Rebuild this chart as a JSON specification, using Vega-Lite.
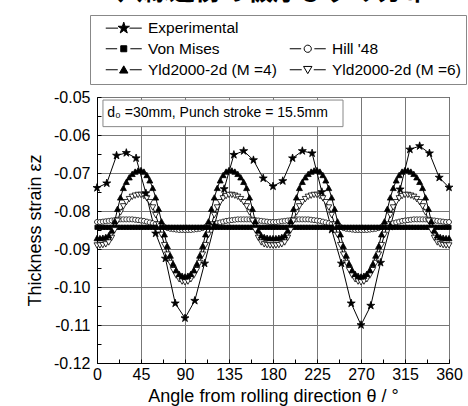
{
  "$schema": "https://vega.github.io/schema/vega-lite/v6.json",
  "width": 352,
  "height": 266,
  "autosize": {"type": "none"},
  "padding": {"left": 97, "top": 97, "right": 19, "bottom": 43},
  "background": "white",
  "config": {
    "font": "Liberation Sans",
    "view": {"stroke": "black", "strokeWidth": 1}
  },
  "title": {
    "text": "穴縁近傍の板厚ひずみ分布",
    "font": "Noto Sans CJK JP",
    "fontSize": 26,
    "fontWeight": "bold",
    "color": "black",
    "anchor": "middle",
    "frame": "group",
    "baseline": "bottom",
    "offset": 0,
    "dy": 16
  },
  "data": {
    "values": [
      {"model":"Hill","theta":0,"ez":-0.0829},{"model":"Hill","theta":3,"ez":-0.0829},{"model":"Hill","theta":6,"ez":-0.0828},{"model":"Hill","theta":9,"ez":-0.0827},{"model":"Hill","theta":12,"ez":-0.0826},{"model":"Hill","theta":15,"ez":-0.0825},{"model":"Hill","theta":18,"ez":-0.0824},{"model":"Hill","theta":21,"ez":-0.0823},{"model":"Hill","theta":24,"ez":-0.0822},{"model":"Hill","theta":27,"ez":-0.0822},{"model":"Hill","theta":30,"ez":-0.0822},{"model":"Hill","theta":33,"ez":-0.0822},{"model":"Hill","theta":36,"ez":-0.0822},{"model":"Hill","theta":39,"ez":-0.0823},{"model":"Hill","theta":42,"ez":-0.0824},{"model":"Hill","theta":45,"ez":-0.0825},{"model":"Hill","theta":48,"ez":-0.0826},{"model":"Hill","theta":51,"ez":-0.0828},{"model":"Hill","theta":54,"ez":-0.083},{"model":"Hill","theta":57,"ez":-0.0832},{"model":"Hill","theta":60,"ez":-0.0834},{"model":"Hill","theta":63,"ez":-0.0837},{"model":"Hill","theta":66,"ez":-0.084},{"model":"Hill","theta":69,"ez":-0.0842},{"model":"Hill","theta":72,"ez":-0.0845},{"model":"Hill","theta":75,"ez":-0.0847},{"model":"Hill","theta":78,"ez":-0.0848},{"model":"Hill","theta":81,"ez":-0.0849},{"model":"Hill","theta":84,"ez":-0.085},{"model":"Hill","theta":87,"ez":-0.085},{"model":"Hill","theta":90,"ez":-0.085},
      {"model":"Hill","theta":93,"ez":-0.085},{"model":"Hill","theta":96,"ez":-0.085},{"model":"Hill","theta":99,"ez":-0.0849},{"model":"Hill","theta":102,"ez":-0.0848},{"model":"Hill","theta":105,"ez":-0.0847},{"model":"Hill","theta":108,"ez":-0.0845},{"model":"Hill","theta":111,"ez":-0.0842},{"model":"Hill","theta":114,"ez":-0.084},{"model":"Hill","theta":117,"ez":-0.0837},{"model":"Hill","theta":120,"ez":-0.0834},{"model":"Hill","theta":123,"ez":-0.0832},{"model":"Hill","theta":126,"ez":-0.083},{"model":"Hill","theta":129,"ez":-0.0828},{"model":"Hill","theta":132,"ez":-0.0826},{"model":"Hill","theta":135,"ez":-0.0825},{"model":"Hill","theta":138,"ez":-0.0824},{"model":"Hill","theta":141,"ez":-0.0823},{"model":"Hill","theta":144,"ez":-0.0822},{"model":"Hill","theta":147,"ez":-0.0822},{"model":"Hill","theta":150,"ez":-0.0822},{"model":"Hill","theta":153,"ez":-0.0822},{"model":"Hill","theta":156,"ez":-0.0822},{"model":"Hill","theta":159,"ez":-0.0823},{"model":"Hill","theta":162,"ez":-0.0824},{"model":"Hill","theta":165,"ez":-0.0825},{"model":"Hill","theta":168,"ez":-0.0826},{"model":"Hill","theta":171,"ez":-0.0827},{"model":"Hill","theta":174,"ez":-0.0828},{"model":"Hill","theta":177,"ez":-0.0829},{"model":"Hill","theta":180,"ez":-0.0829},
      {"model":"Hill","theta":183,"ez":-0.0829},{"model":"Hill","theta":186,"ez":-0.0828},{"model":"Hill","theta":189,"ez":-0.0827},{"model":"Hill","theta":192,"ez":-0.0826},{"model":"Hill","theta":195,"ez":-0.0825},{"model":"Hill","theta":198,"ez":-0.0824},{"model":"Hill","theta":201,"ez":-0.0823},{"model":"Hill","theta":204,"ez":-0.0822},{"model":"Hill","theta":207,"ez":-0.0822},{"model":"Hill","theta":210,"ez":-0.0822},{"model":"Hill","theta":213,"ez":-0.0822},{"model":"Hill","theta":216,"ez":-0.0822},{"model":"Hill","theta":219,"ez":-0.0823},{"model":"Hill","theta":222,"ez":-0.0824},{"model":"Hill","theta":225,"ez":-0.0825},{"model":"Hill","theta":228,"ez":-0.0826},{"model":"Hill","theta":231,"ez":-0.0828},{"model":"Hill","theta":234,"ez":-0.083},{"model":"Hill","theta":237,"ez":-0.0832},{"model":"Hill","theta":240,"ez":-0.0834},{"model":"Hill","theta":243,"ez":-0.0837},{"model":"Hill","theta":246,"ez":-0.084},{"model":"Hill","theta":249,"ez":-0.0842},{"model":"Hill","theta":252,"ez":-0.0845},{"model":"Hill","theta":255,"ez":-0.0847},{"model":"Hill","theta":258,"ez":-0.0848},{"model":"Hill","theta":261,"ez":-0.0849},{"model":"Hill","theta":264,"ez":-0.085},{"model":"Hill","theta":267,"ez":-0.085},{"model":"Hill","theta":270,"ez":-0.085},
      {"model":"Hill","theta":273,"ez":-0.085},{"model":"Hill","theta":276,"ez":-0.085},{"model":"Hill","theta":279,"ez":-0.0849},{"model":"Hill","theta":282,"ez":-0.0848},{"model":"Hill","theta":285,"ez":-0.0847},{"model":"Hill","theta":288,"ez":-0.0845},{"model":"Hill","theta":291,"ez":-0.0842},{"model":"Hill","theta":294,"ez":-0.084},{"model":"Hill","theta":297,"ez":-0.0837},{"model":"Hill","theta":300,"ez":-0.0834},{"model":"Hill","theta":303,"ez":-0.0832},{"model":"Hill","theta":306,"ez":-0.083},{"model":"Hill","theta":309,"ez":-0.0828},{"model":"Hill","theta":312,"ez":-0.0826},{"model":"Hill","theta":315,"ez":-0.0825},{"model":"Hill","theta":318,"ez":-0.0824},{"model":"Hill","theta":321,"ez":-0.0823},{"model":"Hill","theta":324,"ez":-0.0822},{"model":"Hill","theta":327,"ez":-0.0822},{"model":"Hill","theta":330,"ez":-0.0822},{"model":"Hill","theta":333,"ez":-0.0822},{"model":"Hill","theta":336,"ez":-0.0822},{"model":"Hill","theta":339,"ez":-0.0823},{"model":"Hill","theta":342,"ez":-0.0824},{"model":"Hill","theta":345,"ez":-0.0825},{"model":"Hill","theta":348,"ez":-0.0826},{"model":"Hill","theta":351,"ez":-0.0827},{"model":"Hill","theta":354,"ez":-0.0828},{"model":"Hill","theta":357,"ez":-0.0829},{"model":"Hill","theta":360,"ez":-0.0829},

      {"model":"VM","theta":0,"ez":-0.0843},{"model":"VM","theta":3,"ez":-0.0843},{"model":"VM","theta":6,"ez":-0.0843},{"model":"VM","theta":9,"ez":-0.0843},{"model":"VM","theta":12,"ez":-0.0843},{"model":"VM","theta":15,"ez":-0.0843},{"model":"VM","theta":18,"ez":-0.0843},{"model":"VM","theta":21,"ez":-0.0843},{"model":"VM","theta":24,"ez":-0.0843},{"model":"VM","theta":27,"ez":-0.0843},{"model":"VM","theta":30,"ez":-0.0843},{"model":"VM","theta":33,"ez":-0.0843},{"model":"VM","theta":36,"ez":-0.0843},{"model":"VM","theta":39,"ez":-0.0843},{"model":"VM","theta":42,"ez":-0.0843},{"model":"VM","theta":45,"ez":-0.0843},{"model":"VM","theta":48,"ez":-0.0843},{"model":"VM","theta":51,"ez":-0.0843},{"model":"VM","theta":54,"ez":-0.0843},{"model":"VM","theta":57,"ez":-0.0843},{"model":"VM","theta":60,"ez":-0.0843},{"model":"VM","theta":63,"ez":-0.0843},{"model":"VM","theta":66,"ez":-0.0843},{"model":"VM","theta":69,"ez":-0.0843},{"model":"VM","theta":72,"ez":-0.0843},{"model":"VM","theta":75,"ez":-0.0843},{"model":"VM","theta":78,"ez":-0.0843},{"model":"VM","theta":81,"ez":-0.0843},{"model":"VM","theta":84,"ez":-0.0843},{"model":"VM","theta":87,"ez":-0.0843},{"model":"VM","theta":90,"ez":-0.0843},
      {"model":"VM","theta":93,"ez":-0.0843},{"model":"VM","theta":96,"ez":-0.0843},{"model":"VM","theta":99,"ez":-0.0843},{"model":"VM","theta":102,"ez":-0.0843},{"model":"VM","theta":105,"ez":-0.0843},{"model":"VM","theta":108,"ez":-0.0843},{"model":"VM","theta":111,"ez":-0.0843},{"model":"VM","theta":114,"ez":-0.0843},{"model":"VM","theta":117,"ez":-0.0843},{"model":"VM","theta":120,"ez":-0.0843},{"model":"VM","theta":123,"ez":-0.0843},{"model":"VM","theta":126,"ez":-0.0843},{"model":"VM","theta":129,"ez":-0.0843},{"model":"VM","theta":132,"ez":-0.0843},{"model":"VM","theta":135,"ez":-0.0843},{"model":"VM","theta":138,"ez":-0.0843},{"model":"VM","theta":141,"ez":-0.0843},{"model":"VM","theta":144,"ez":-0.0843},{"model":"VM","theta":147,"ez":-0.0843},{"model":"VM","theta":150,"ez":-0.0843},{"model":"VM","theta":153,"ez":-0.0843},{"model":"VM","theta":156,"ez":-0.0843},{"model":"VM","theta":159,"ez":-0.0843},{"model":"VM","theta":162,"ez":-0.0843},{"model":"VM","theta":165,"ez":-0.0843},{"model":"VM","theta":168,"ez":-0.0843},{"model":"VM","theta":171,"ez":-0.0843},{"model":"VM","theta":174,"ez":-0.0843},{"model":"VM","theta":177,"ez":-0.0843},{"model":"VM","theta":180,"ez":-0.0843},
      {"model":"VM","theta":183,"ez":-0.0843},{"model":"VM","theta":186,"ez":-0.0843},{"model":"VM","theta":189,"ez":-0.0843},{"model":"VM","theta":192,"ez":-0.0843},{"model":"VM","theta":195,"ez":-0.0843},{"model":"VM","theta":198,"ez":-0.0843},{"model":"VM","theta":201,"ez":-0.0843},{"model":"VM","theta":204,"ez":-0.0843},{"model":"VM","theta":207,"ez":-0.0843},{"model":"VM","theta":210,"ez":-0.0843},{"model":"VM","theta":213,"ez":-0.0843},{"model":"VM","theta":216,"ez":-0.0843},{"model":"VM","theta":219,"ez":-0.0843},{"model":"VM","theta":222,"ez":-0.0843},{"model":"VM","theta":225,"ez":-0.0843},{"model":"VM","theta":228,"ez":-0.0843},{"model":"VM","theta":231,"ez":-0.0843},{"model":"VM","theta":234,"ez":-0.0843},{"model":"VM","theta":237,"ez":-0.0843},{"model":"VM","theta":240,"ez":-0.0843},{"model":"VM","theta":243,"ez":-0.0843},{"model":"VM","theta":246,"ez":-0.0843},{"model":"VM","theta":249,"ez":-0.0843},{"model":"VM","theta":252,"ez":-0.0843},{"model":"VM","theta":255,"ez":-0.0843},{"model":"VM","theta":258,"ez":-0.0843},{"model":"VM","theta":261,"ez":-0.0843},{"model":"VM","theta":264,"ez":-0.0843},{"model":"VM","theta":267,"ez":-0.0843},{"model":"VM","theta":270,"ez":-0.0843},
      {"model":"VM","theta":273,"ez":-0.0843},{"model":"VM","theta":276,"ez":-0.0843},{"model":"VM","theta":279,"ez":-0.0843},{"model":"VM","theta":282,"ez":-0.0843},{"model":"VM","theta":285,"ez":-0.0843},{"model":"VM","theta":288,"ez":-0.0843},{"model":"VM","theta":291,"ez":-0.0843},{"model":"VM","theta":294,"ez":-0.0843},{"model":"VM","theta":297,"ez":-0.0843},{"model":"VM","theta":300,"ez":-0.0843},{"model":"VM","theta":303,"ez":-0.0843},{"model":"VM","theta":306,"ez":-0.0843},{"model":"VM","theta":309,"ez":-0.0843},{"model":"VM","theta":312,"ez":-0.0843},{"model":"VM","theta":315,"ez":-0.0843},{"model":"VM","theta":318,"ez":-0.0843},{"model":"VM","theta":321,"ez":-0.0843},{"model":"VM","theta":324,"ez":-0.0843},{"model":"VM","theta":327,"ez":-0.0843},{"model":"VM","theta":330,"ez":-0.0843},{"model":"VM","theta":333,"ez":-0.0843},{"model":"VM","theta":336,"ez":-0.0843},{"model":"VM","theta":339,"ez":-0.0843},{"model":"VM","theta":342,"ez":-0.0843},{"model":"VM","theta":345,"ez":-0.0843},{"model":"VM","theta":348,"ez":-0.0843},{"model":"VM","theta":351,"ez":-0.0843},{"model":"VM","theta":354,"ez":-0.0843},{"model":"VM","theta":357,"ez":-0.0843},{"model":"VM","theta":360,"ez":-0.0843},

      {"model":"Y6","theta":0,"ez":-0.089},{"model":"Y6","theta":3,"ez":-0.089},{"model":"Y6","theta":6,"ez":-0.0889},{"model":"Y6","theta":9,"ez":-0.0887},{"model":"Y6","theta":12,"ez":-0.0882},{"model":"Y6","theta":15,"ez":-0.087},{"model":"Y6","theta":18,"ez":-0.085},{"model":"Y6","theta":21,"ez":-0.0825},{"model":"Y6","theta":24,"ez":-0.0803},{"model":"Y6","theta":27,"ez":-0.0787},{"model":"Y6","theta":30,"ez":-0.0776},{"model":"Y6","theta":33,"ez":-0.0768},{"model":"Y6","theta":36,"ez":-0.0762},{"model":"Y6","theta":39,"ez":-0.0759},{"model":"Y6","theta":42,"ez":-0.0757},{"model":"Y6","theta":45,"ez":-0.0757},{"model":"Y6","theta":48,"ez":-0.076},{"model":"Y6","theta":51,"ez":-0.0766},{"model":"Y6","theta":54,"ez":-0.0776},{"model":"Y6","theta":57,"ez":-0.079},{"model":"Y6","theta":60,"ez":-0.081},{"model":"Y6","theta":63,"ez":-0.0835},{"model":"Y6","theta":66,"ez":-0.0862},{"model":"Y6","theta":69,"ez":-0.0889},{"model":"Y6","theta":72,"ez":-0.0914},{"model":"Y6","theta":75,"ez":-0.0936},{"model":"Y6","theta":78,"ez":-0.0955},{"model":"Y6","theta":81,"ez":-0.0969},{"model":"Y6","theta":84,"ez":-0.0979},{"model":"Y6","theta":87,"ez":-0.0985},{"model":"Y6","theta":90,"ez":-0.0987},
      {"model":"Y6","theta":93,"ez":-0.0985},{"model":"Y6","theta":96,"ez":-0.0979},{"model":"Y6","theta":99,"ez":-0.0969},{"model":"Y6","theta":102,"ez":-0.0955},{"model":"Y6","theta":105,"ez":-0.0936},{"model":"Y6","theta":108,"ez":-0.0914},{"model":"Y6","theta":111,"ez":-0.0889},{"model":"Y6","theta":114,"ez":-0.0862},{"model":"Y6","theta":117,"ez":-0.0835},{"model":"Y6","theta":120,"ez":-0.081},{"model":"Y6","theta":123,"ez":-0.079},{"model":"Y6","theta":126,"ez":-0.0776},{"model":"Y6","theta":129,"ez":-0.0766},{"model":"Y6","theta":132,"ez":-0.076},{"model":"Y6","theta":135,"ez":-0.0757},{"model":"Y6","theta":138,"ez":-0.0757},{"model":"Y6","theta":141,"ez":-0.0759},{"model":"Y6","theta":144,"ez":-0.0762},{"model":"Y6","theta":147,"ez":-0.0768},{"model":"Y6","theta":150,"ez":-0.0776},{"model":"Y6","theta":153,"ez":-0.0787},{"model":"Y6","theta":156,"ez":-0.0803},{"model":"Y6","theta":159,"ez":-0.0825},{"model":"Y6","theta":162,"ez":-0.085},{"model":"Y6","theta":165,"ez":-0.087},{"model":"Y6","theta":168,"ez":-0.0882},{"model":"Y6","theta":171,"ez":-0.0887},{"model":"Y6","theta":174,"ez":-0.0889},{"model":"Y6","theta":177,"ez":-0.089},{"model":"Y6","theta":180,"ez":-0.089},
      {"model":"Y6","theta":183,"ez":-0.089},{"model":"Y6","theta":186,"ez":-0.0889},{"model":"Y6","theta":189,"ez":-0.0887},{"model":"Y6","theta":192,"ez":-0.0882},{"model":"Y6","theta":195,"ez":-0.087},{"model":"Y6","theta":198,"ez":-0.085},{"model":"Y6","theta":201,"ez":-0.0825},{"model":"Y6","theta":204,"ez":-0.0803},{"model":"Y6","theta":207,"ez":-0.0787},{"model":"Y6","theta":210,"ez":-0.0776},{"model":"Y6","theta":213,"ez":-0.0768},{"model":"Y6","theta":216,"ez":-0.0762},{"model":"Y6","theta":219,"ez":-0.0759},{"model":"Y6","theta":222,"ez":-0.0757},{"model":"Y6","theta":225,"ez":-0.0757},{"model":"Y6","theta":228,"ez":-0.076},{"model":"Y6","theta":231,"ez":-0.0766},{"model":"Y6","theta":234,"ez":-0.0776},{"model":"Y6","theta":237,"ez":-0.079},{"model":"Y6","theta":240,"ez":-0.081},{"model":"Y6","theta":243,"ez":-0.0835},{"model":"Y6","theta":246,"ez":-0.0862},{"model":"Y6","theta":249,"ez":-0.0889},{"model":"Y6","theta":252,"ez":-0.0914},{"model":"Y6","theta":255,"ez":-0.0936},{"model":"Y6","theta":258,"ez":-0.0955},{"model":"Y6","theta":261,"ez":-0.0969},{"model":"Y6","theta":264,"ez":-0.0979},{"model":"Y6","theta":267,"ez":-0.0985},{"model":"Y6","theta":270,"ez":-0.0987},
      {"model":"Y6","theta":273,"ez":-0.0985},{"model":"Y6","theta":276,"ez":-0.0979},{"model":"Y6","theta":279,"ez":-0.0969},{"model":"Y6","theta":282,"ez":-0.0955},{"model":"Y6","theta":285,"ez":-0.0936},{"model":"Y6","theta":288,"ez":-0.0914},{"model":"Y6","theta":291,"ez":-0.0889},{"model":"Y6","theta":294,"ez":-0.0862},{"model":"Y6","theta":297,"ez":-0.0835},{"model":"Y6","theta":300,"ez":-0.081},{"model":"Y6","theta":303,"ez":-0.079},{"model":"Y6","theta":306,"ez":-0.0776},{"model":"Y6","theta":309,"ez":-0.0766},{"model":"Y6","theta":312,"ez":-0.076},{"model":"Y6","theta":315,"ez":-0.0757},{"model":"Y6","theta":318,"ez":-0.0757},{"model":"Y6","theta":321,"ez":-0.0759},{"model":"Y6","theta":324,"ez":-0.0762},{"model":"Y6","theta":327,"ez":-0.0768},{"model":"Y6","theta":330,"ez":-0.0776},{"model":"Y6","theta":333,"ez":-0.0787},{"model":"Y6","theta":336,"ez":-0.0803},{"model":"Y6","theta":339,"ez":-0.0825},{"model":"Y6","theta":342,"ez":-0.085},{"model":"Y6","theta":345,"ez":-0.087},{"model":"Y6","theta":348,"ez":-0.0882},{"model":"Y6","theta":351,"ez":-0.0887},{"model":"Y6","theta":354,"ez":-0.0889},{"model":"Y6","theta":357,"ez":-0.089},{"model":"Y6","theta":360,"ez":-0.089},

      {"model":"Y4","theta":0,"ez":-0.0872},{"model":"Y4","theta":3,"ez":-0.0872},{"model":"Y4","theta":6,"ez":-0.0871},{"model":"Y4","theta":9,"ez":-0.0869},{"model":"Y4","theta":12,"ez":-0.0865},{"model":"Y4","theta":15,"ez":-0.0852},{"model":"Y4","theta":18,"ez":-0.0828},{"model":"Y4","theta":21,"ez":-0.0795},{"model":"Y4","theta":24,"ez":-0.0765},{"model":"Y4","theta":27,"ez":-0.074},{"model":"Y4","theta":30,"ez":-0.0724},{"model":"Y4","theta":33,"ez":-0.0712},{"model":"Y4","theta":36,"ez":-0.0703},{"model":"Y4","theta":39,"ez":-0.0697},{"model":"Y4","theta":42,"ez":-0.0694},{"model":"Y4","theta":45,"ez":-0.0693},{"model":"Y4","theta":48,"ez":-0.0697},{"model":"Y4","theta":51,"ez":-0.0706},{"model":"Y4","theta":54,"ez":-0.072},{"model":"Y4","theta":57,"ez":-0.074},{"model":"Y4","theta":60,"ez":-0.0765},{"model":"Y4","theta":63,"ez":-0.0795},{"model":"Y4","theta":66,"ez":-0.0828},{"model":"Y4","theta":69,"ez":-0.0862},{"model":"Y4","theta":72,"ez":-0.0893},{"model":"Y4","theta":75,"ez":-0.0918},{"model":"Y4","theta":78,"ez":-0.094},{"model":"Y4","theta":81,"ez":-0.0956},{"model":"Y4","theta":84,"ez":-0.0966},{"model":"Y4","theta":87,"ez":-0.0971},{"model":"Y4","theta":90,"ez":-0.0973},
      {"model":"Y4","theta":93,"ez":-0.0971},{"model":"Y4","theta":96,"ez":-0.0966},{"model":"Y4","theta":99,"ez":-0.0956},{"model":"Y4","theta":102,"ez":-0.094},{"model":"Y4","theta":105,"ez":-0.0918},{"model":"Y4","theta":108,"ez":-0.0893},{"model":"Y4","theta":111,"ez":-0.0862},{"model":"Y4","theta":114,"ez":-0.0828},{"model":"Y4","theta":117,"ez":-0.0795},{"model":"Y4","theta":120,"ez":-0.0765},{"model":"Y4","theta":123,"ez":-0.074},{"model":"Y4","theta":126,"ez":-0.072},{"model":"Y4","theta":129,"ez":-0.0706},{"model":"Y4","theta":132,"ez":-0.0697},{"model":"Y4","theta":135,"ez":-0.0693},{"model":"Y4","theta":138,"ez":-0.0694},{"model":"Y4","theta":141,"ez":-0.0697},{"model":"Y4","theta":144,"ez":-0.0703},{"model":"Y4","theta":147,"ez":-0.0712},{"model":"Y4","theta":150,"ez":-0.0724},{"model":"Y4","theta":153,"ez":-0.074},{"model":"Y4","theta":156,"ez":-0.0765},{"model":"Y4","theta":159,"ez":-0.0795},{"model":"Y4","theta":162,"ez":-0.0828},{"model":"Y4","theta":165,"ez":-0.0852},{"model":"Y4","theta":168,"ez":-0.0865},{"model":"Y4","theta":171,"ez":-0.0869},{"model":"Y4","theta":174,"ez":-0.0871},{"model":"Y4","theta":177,"ez":-0.0872},{"model":"Y4","theta":180,"ez":-0.0872},
      {"model":"Y4","theta":183,"ez":-0.0872},{"model":"Y4","theta":186,"ez":-0.0871},{"model":"Y4","theta":189,"ez":-0.0869},{"model":"Y4","theta":192,"ez":-0.0865},{"model":"Y4","theta":195,"ez":-0.0852},{"model":"Y4","theta":198,"ez":-0.0828},{"model":"Y4","theta":201,"ez":-0.0795},{"model":"Y4","theta":204,"ez":-0.0765},{"model":"Y4","theta":207,"ez":-0.074},{"model":"Y4","theta":210,"ez":-0.0724},{"model":"Y4","theta":213,"ez":-0.0712},{"model":"Y4","theta":216,"ez":-0.0703},{"model":"Y4","theta":219,"ez":-0.0697},{"model":"Y4","theta":222,"ez":-0.0694},{"model":"Y4","theta":225,"ez":-0.0693},{"model":"Y4","theta":228,"ez":-0.0697},{"model":"Y4","theta":231,"ez":-0.0706},{"model":"Y4","theta":234,"ez":-0.072},{"model":"Y4","theta":237,"ez":-0.074},{"model":"Y4","theta":240,"ez":-0.0765},{"model":"Y4","theta":243,"ez":-0.0795},{"model":"Y4","theta":246,"ez":-0.0828},{"model":"Y4","theta":249,"ez":-0.0862},{"model":"Y4","theta":252,"ez":-0.0893},{"model":"Y4","theta":255,"ez":-0.0918},{"model":"Y4","theta":258,"ez":-0.094},{"model":"Y4","theta":261,"ez":-0.0956},{"model":"Y4","theta":264,"ez":-0.0966},{"model":"Y4","theta":267,"ez":-0.0971},{"model":"Y4","theta":270,"ez":-0.0973},
      {"model":"Y4","theta":273,"ez":-0.0971},{"model":"Y4","theta":276,"ez":-0.0966},{"model":"Y4","theta":279,"ez":-0.0956},{"model":"Y4","theta":282,"ez":-0.094},{"model":"Y4","theta":285,"ez":-0.0918},{"model":"Y4","theta":288,"ez":-0.0893},{"model":"Y4","theta":291,"ez":-0.0862},{"model":"Y4","theta":294,"ez":-0.0828},{"model":"Y4","theta":297,"ez":-0.0795},{"model":"Y4","theta":300,"ez":-0.0765},{"model":"Y4","theta":303,"ez":-0.074},{"model":"Y4","theta":306,"ez":-0.072},{"model":"Y4","theta":309,"ez":-0.0706},{"model":"Y4","theta":312,"ez":-0.0697},{"model":"Y4","theta":315,"ez":-0.0693},{"model":"Y4","theta":318,"ez":-0.0694},{"model":"Y4","theta":321,"ez":-0.0697},{"model":"Y4","theta":324,"ez":-0.0703},{"model":"Y4","theta":327,"ez":-0.0712},{"model":"Y4","theta":330,"ez":-0.0724},{"model":"Y4","theta":333,"ez":-0.074},{"model":"Y4","theta":336,"ez":-0.0765},{"model":"Y4","theta":339,"ez":-0.0795},{"model":"Y4","theta":342,"ez":-0.0828},{"model":"Y4","theta":345,"ez":-0.0852},{"model":"Y4","theta":348,"ez":-0.0865},{"model":"Y4","theta":351,"ez":-0.0869},{"model":"Y4","theta":354,"ez":-0.0871},{"model":"Y4","theta":357,"ez":-0.0872},{"model":"Y4","theta":360,"ez":-0.0872},

      {"model":"Exp","theta":0,"ez":-0.0739},{"model":"Exp","theta":10,"ez":-0.0727},{"model":"Exp","theta":20,"ez":-0.0654},{"model":"Exp","theta":30,"ez":-0.0647},{"model":"Exp","theta":40,"ez":-0.0661},{"model":"Exp","theta":50,"ez":-0.0753},{"model":"Exp","theta":60,"ez":-0.0859},{"model":"Exp","theta":70,"ez":-0.0925},{"model":"Exp","theta":80,"ez":-0.1043},{"model":"Exp","theta":90,"ez":-0.1082},{"model":"Exp","theta":100,"ez":-0.1036},{"model":"Exp","theta":110,"ez":-0.0938},{"model":"Exp","theta":120,"ez":-0.0838},{"model":"Exp","theta":130,"ez":-0.0742},{"model":"Exp","theta":140,"ez":-0.0652},{"model":"Exp","theta":150,"ez":-0.0642},{"model":"Exp","theta":160,"ez":-0.0666},{"model":"Exp","theta":170,"ez":-0.0714},{"model":"Exp","theta":180,"ez":-0.0735},{"model":"Exp","theta":190,"ez":-0.0721},{"model":"Exp","theta":200,"ez":-0.0661},{"model":"Exp","theta":210,"ez":-0.0642},{"model":"Exp","theta":220,"ez":-0.0648},{"model":"Exp","theta":230,"ez":-0.075},{"model":"Exp","theta":240,"ez":-0.0849},{"model":"Exp","theta":250,"ez":-0.0938},{"model":"Exp","theta":260,"ez":-0.1043},{"model":"Exp","theta":270,"ez":-0.11},{"model":"Exp","theta":280,"ez":-0.1049},{"model":"Exp","theta":290,"ez":-0.0936},{"model":"Exp","theta":300,"ez":-0.0841},{"model":"Exp","theta":310,"ez":-0.0743},{"model":"Exp","theta":320,"ez":-0.0638},{"model":"Exp","theta":330,"ez":-0.0629},{"model":"Exp","theta":340,"ez":-0.0648},{"model":"Exp","theta":350,"ez":-0.0712},{"model":"Exp","theta":360,"ez":-0.0738}
    ]
  },
  "encoding": {
    "x": {
      "field": "theta", "type": "quantitative",
      "scale": {"domain": [0, 360], "nice": false, "zero": false},
      "axis": {
        "title": "Angle from rolling direction θ / °",
        "values": [0, 22.5, 45, 67.5, 90, 112.5, 135, 157.5, 180, 202.5, 225, 247.5, 270, 292.5, 315, 337.5, 360],
        "format": "d",
        "labelExpr": "datum.value % 45 === 0 ? datum.label : ''",
        "labelFont": "Liberation Sans", "labelFontSize": 16, "labelColor": "black",
        "labelPadding": 7, "labelOverlap": false, "labelFlush": false,
        "grid": true, "gridColor": "#777", "gridWidth": 1,
        "gridOpacity": {"condition": {"test": "datum.value % 45 !== 0", "value": 0}, "value": 1},
        "domainColor": "black", "domainWidth": 1,
        "ticks": true, "tickSize": -4, "tickColor": "black", "tickWidth": 1,
        "titleFont": "Liberation Sans", "titleFontSize": 18, "titleFontWeight": "normal", "titleColor": "black", "titlePadding": 5
      }
    },
    "y": {
      "field": "ez", "type": "quantitative",
      "scale": {"domain": [-0.12, -0.05], "nice": false, "zero": false},
      "axis": {
        "title": "Thickness strain εz",
        "values": [-0.12, -0.115, -0.11, -0.105, -0.1, -0.095, -0.09, -0.085, -0.08, -0.075, -0.07, -0.065, -0.06, -0.055, -0.05],
        "format": ".2f",
        "labelExpr": "abs(round(datum.value * 1000)) % 10 === 0 ? replace(datum.label, '\u2212', '-') : ''",
        "labelFont": "Liberation Sans", "labelFontSize": 16, "labelColor": "black",
        "labelPadding": 11, "labelOverlap": false, "labelFlush": false,
        "grid": true, "gridColor": "#777", "gridWidth": 1,
        "gridOpacity": {"condition": {"test": "abs(round(datum.value * 1000)) % 10 !== 0", "value": 0}, "value": 1},
        "domainColor": "black", "domainWidth": 1,
        "ticks": true, "tickSize": -4, "tickColor": "black", "tickWidth": 1,
        "titleFont": "Liberation Sans", "titleFontSize": 18, "titleFontWeight": "normal", "titleColor": "black", "titlePadding": 9
      }
    }
  },
  "layer": [
    {
      "mark": {"type": "line", "color": "black", "strokeWidth": 1},
      "encoding": {
        "detail": {"field": "model", "type": "nominal"}
      }
    },
    {
      "transform": [{"filter": "datum.model === 'Exp' && datum.theta === 0"}],
      "mark": {"type": "rect", "fill": "white", "stroke": "#888", "strokeWidth": 1},
      "encoding": {
        "x": {"datum": 6.1, "type": "quantitative"},
        "x2": {"datum": 251.6},
        "y": {"datum": -0.0508, "type": "quantitative"},
        "y2": {"datum": -0.0578}
      }
    },
    {
      "transform": [{"filter": "datum.model === 'Exp' && datum.theta === 0"}],
      "mark": {"type": "text", "align": "left", "baseline": "middle", "font": "Liberation Sans", "fontSize": 14, "color": "black"},
      "encoding": {
        "x": {"datum": 10.5, "type": "quantitative"},
        "y": {"datum": -0.0543, "type": "quantitative"},
        "text": {"value": "d₀ =30mm, Punch stroke = 15.5mm"}
      }
    },
    {
      "mark": {"type": "point", "filled": true, "opacity": 1, "stroke": "black", "strokeWidth": 0.8, "size": 36},
      "encoding": {
        "shape": {
          "field": "model", "type": "nominal",
          "scale": {
            "domain": ["Exp", "VM", "Y4", "_", "Hill", "Y6", "none"],
            "range": [
              "M0,-1.4L0.315,-0.433L1.331,-0.433L0.508,0.165L0.823,1.133L0,0.535L-0.823,1.133L-0.508,0.165L-1.331,-0.433L-0.315,-0.433Z",
              "M-0.7,-0.7H0.7V0.7H-0.7Z",
              "M0,-1L1,0.8L-1,0.8Z",
              "M0,0",
              "M0.83,0A0.83,0.83 0 1,1 -0.83,0A0.83,0.83 0 1,1 0.83,0Z",
              "M-1,-0.8L1,-0.8L0,1Z",
              "M0,0"
            ]
          },
          "legend": null
        },
        "fill": {
          "field": "model", "type": "nominal",
          "scale": {"domain": ["Exp", "VM", "Y4", "_", "Hill", "Y6"], "range": ["black", "black", "black", "white", "white", "white"]},
          "legend": {
            "orient": "none", "legendX": -7, "legendY": -82,
            "columns": 2,
            "title": " ", "titleOrient": "left", "titleFontSize": 4, "titlePadding": 21,
            "labelExpr": "datum.value === 'Exp' ? 'Experimental' : datum.value === 'VM' ? 'Von Mises' : datum.value === 'Hill' ? \"Hill '48\" : datum.value === 'Y4' ? 'Yld2000-2d (M =4)' : datum.value === 'Y6' ? 'Yld2000-2d (M =6)' : ''",
            "labelFont": "Liberation Sans", "labelFontSize": 15.5, "labelColor": "black",
            "symbolSize": 144, "symbolStrokeWidth": 1, "symbolStrokeColor": "black",
            "symbolType": {"expr": "datum.value === 'Exp' ? 'M-3,0H-0.95M0.95,0H3M0,-1L0.225,-0.309L0.951,-0.309L0.363,0.118L0.588,0.809L0,0.382L-0.588,0.809L-0.363,0.118L-0.951,-0.309L-0.225,-0.309Z' : datum.value === 'VM' ? 'M-3,0H-1.1M1.1,0H3M-0.5,-0.5H0.5V0.5H-0.5Z' : datum.value === 'Hill' ? 'M-3,0H-1.1M1.1,0H3M0.6,0A0.6,0.6 0 1,1 -0.6,0A0.6,0.6 0 1,1 0.6,0Z' : datum.value === 'Y4' ? 'M-3,0H-1M1,0H3M0,-0.65L0.7,0.55L-0.7,0.55Z' : datum.value === 'Y6' ? 'M-3,0H-1M1,0H3M-0.7,-0.55L0.7,-0.55L0,0.65Z' : 'M0,0'"},
            "labelOffset": 16.5, "columnPadding": 10, "rowPadding": 4,
            "strokeColor": "#888", "fillColor": "white", "padding": 5,
            "encode": {
              "legend": {
                "stroke": {"value": "#888"},
                "strokeWidth": {"value": 1},
                "fill": {"value": "white"}
              },
              "symbols": {
                "stroke": {"value": "black"},
                "strokeWidth": {"value": 1},
                "opacity": {"value": 1}
              }
            }
          }
        }
      }
    }
  ]
}
